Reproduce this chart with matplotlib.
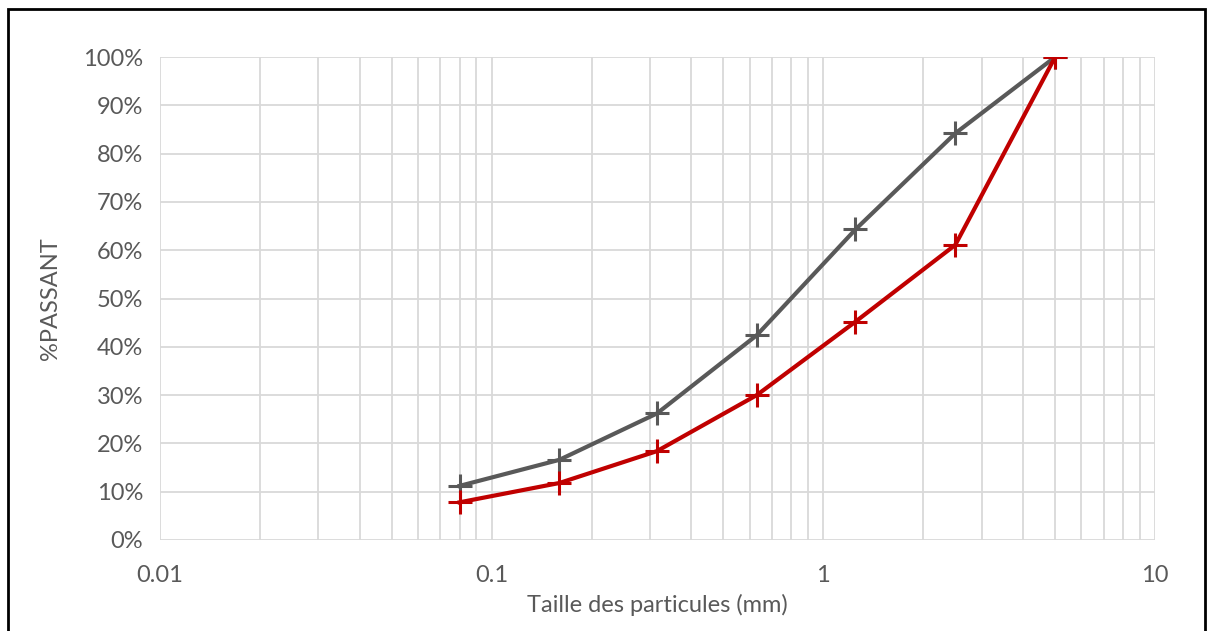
import matplotlib.pyplot as plt
from matplotlib.patches import Rectangle
from matplotlib.ticker import FixedLocator, LogLocator, NullFormatter, FuncFormatter

plt.rcParams['font.family'] = ['Lato', 'DejaVu Sans']

# sieve sizes (mm) and % passing
sizes = [0.08, 0.16, 0.315, 0.63, 1.25, 2.5, 5]
gray_pass = [11.2, 16.6, 26.2, 42.4, 64.3, 84.2, 100]
red_pass = [7.8, 11.8, 18.4, 30.0, 45.2, 61.1, 100]

txt = '#595959'
grid = '#d9d9d9'

fig = plt.figure(figsize=(12.1, 6.31), dpi=100)
ax = fig.add_axes([160 / 1210, 1 - 540 / 631, 995 / 1210, 483 / 631])

ax.plot(sizes, gray_pass, color='#595959', lw=3, marker='+', ms=17, mew=2.2, zorder=3)
ax.plot(sizes, red_pass, color='#c00000', lw=3, marker='+', ms=17, mew=2.2, zorder=3)

ax.set_xscale('log')
ax.set_xlim(0.01, 10)
ax.set_ylim(0, 100)
ax.xaxis.set_major_locator(FixedLocator([0.01, 0.1, 1, 10]))
ax.xaxis.set_major_formatter(FuncFormatter(lambda v, p: '%g' % v))
ax.xaxis.set_minor_locator(LogLocator(base=10, subs=range(2, 10)))
ax.xaxis.set_minor_formatter(NullFormatter())
ax.set_yticks(range(0, 101, 10))
ax.yaxis.set_major_formatter(FuncFormatter(lambda v, p: '%d%%' % v))

ax.grid(True, which='both', axis='x', color=grid, lw=1.3)
ax.grid(True, which='major', axis='y', color=grid, lw=1.3)
ax.set_axisbelow(True)
for s in ax.spines.values():
    s.set_visible(False)
ax.tick_params(which='both', length=0, labelsize=17, colors=txt)
ax.tick_params(axis='x', pad=18)
ax.tick_params(axis='y', pad=12)

ax.set_xlabel('Taille des particules (mm)', fontsize=17, color=txt, labelpad=6)
ax.set_ylabel('%PASSANT', fontsize=17, color=txt, labelpad=16)

fig.patches.append(Rectangle((8 / 1210, -0.05), (1205 - 8) / 1210, 1.05 - 9 / 631,
                             transform=fig.transFigure, fill=False, ec='black', lw=2))

fig.savefig('out.png', dpi=100)
